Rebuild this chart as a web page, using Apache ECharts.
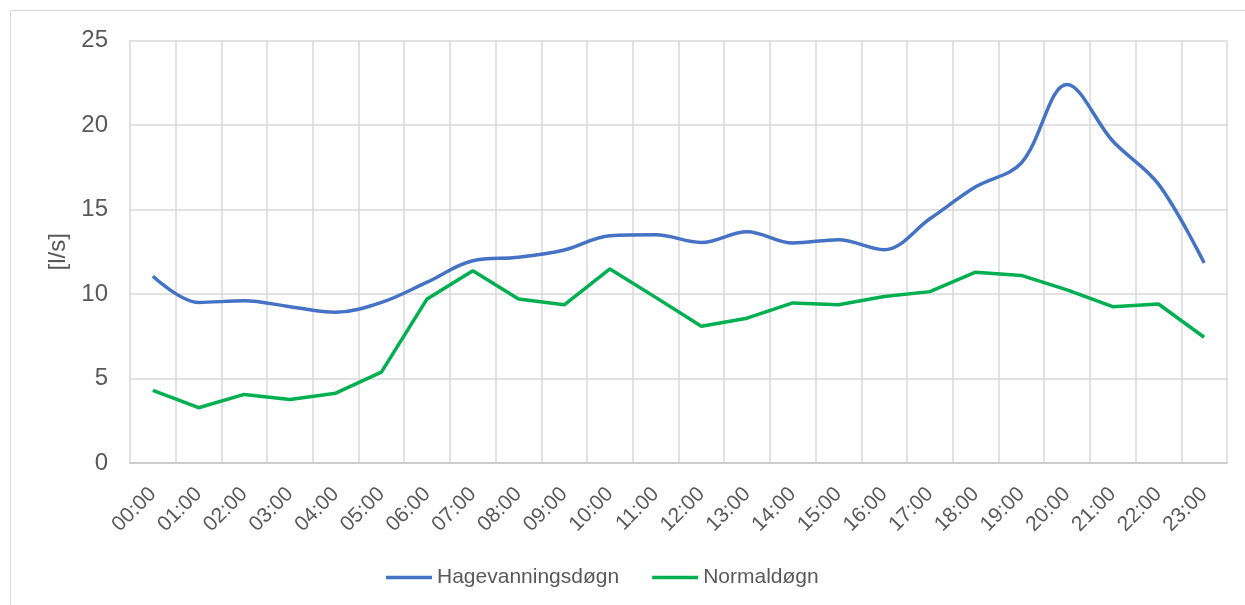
<!DOCTYPE html>
<html>
<head>
<meta charset="utf-8">
<script src="https://cdn.jsdelivr.net/npm/echarts@6/dist/echarts.min.js"></script>
<style>
  html, body { margin: 0; padding: 0; background: #fff; }
  #frame {
    position: absolute; left: 10px; top: 10px;
    width: 1240px; height: 600px;
    border: 1.5px solid #d9d9d9;
    box-sizing: border-box;
  }
  #chart { position: absolute; left: 0; top: 0; width: 1245px; height: 605px; }
</style>
</head>
<body>
<div id="frame"></div>
<div id="chart"></div>
<script>
// timer
const hours = ["00:00", "01:00", "02:00", "03:00", "04:00", "05:00", "06:00", "07:00",
  "08:00", "09:00", "10:00", "11:00", "12:00", "13:00", "14:00", "15:00",
  "16:00", "17:00", "18:00", "19:00", "20:00", "21:00", "22:00", "23:00"];

// l/s
const hagevanning = [11.05, 9.5, 9.6, 9.25, 8.92, 9.5, 10.7, 11.97, 12.17, 12.6, 13.45, 13.5,
  13.05, 13.69, 13.02, 13.21, 12.62, 14.45, 16.34, 17.75, 22.4, 19.05, 16.5, 11.84];
const normal = [4.3, 3.27, 4.06, 3.76, 4.13, 5.38, 9.71, 11.38, 9.71, 9.36, 11.48, 9.8,
  8.09, 8.57, 9.47, 9.36, 9.85, 10.14, 11.29, 11.1, 10.24, 9.25, 9.41, 7.44];

const textColor = "#595959";
const gridColor = "#d9d9d9";

let myChart = echarts.init(document.getElementById("chart"));
myChart.setOption({
  animation: false,
  textStyle: { fontFamily: "Liberation Sans, Arial, sans-serif" },
  grid: {
    left: 130,
    right: 18,
    top: 40.5,
    bottom: 142
  },
  legend: {
    left: 386,
    top: 567,
    padding: 0,
    icon: "rect",
    itemWidth: 46,
    itemHeight: 3.5,
    itemGap: 33,
    textStyle: { color: textColor, fontSize: 21 },
    data: ["Hagevanningsdøgn", "Normaldøgn"]
  },
  xAxis: {
    type: "category",
    boundaryGap: true,
    data: hours,
    axisLine: { lineStyle: { color: "#c6c6c6", width: 1.5 } },
    axisTick: { show: false },
    splitLine: { show: true, lineStyle: { color: gridColor, width: 1.5 } },
    axisLabel: {
      rotate: 45,
      interval: 0,
      margin: 28,
      color: textColor,
      fontSize: 21
    }
  },
  yAxis: {
    type: "value",
    min: 0,
    max: 25,
    interval: 5,
    name: "[l/s]",
    nameLocation: "middle",
    nameGap: 58,
    nameTextStyle: { color: textColor, fontSize: 24 },
    axisLine: { show: false },
    axisTick: { show: false },
    splitLine: { lineStyle: { color: gridColor, width: 1.5 } },
    axisLabel: { color: textColor, fontSize: 24, margin: 22 }
  },
  series: [
    {
      name: "Hagevanningsdøgn",
      type: "line",
      data: hagevanning,
      smooth: 0.35,
      showSymbol: false,
      color: "#4472C4",
      lineStyle: { width: 3.5, color: "#4472C4" }
    },
    {
      name: "Normaldøgn",
      type: "line",
      data: normal,
      showSymbol: false,
      color: "#00B050",
      lineStyle: { width: 3.5, color: "#00B050" }
    }
  ]
});
</script>
</body>
</html>
